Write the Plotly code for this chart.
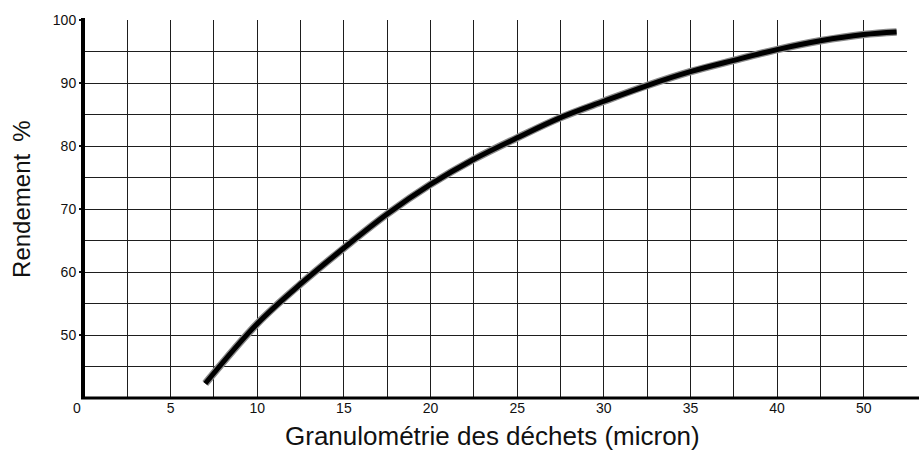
import plotly.graph_objects as go

# Data
granulometrie = [7.0, 10, 12.5, 15, 17.5, 20, 22.5, 25, 27.5, 30, 32.5, 35, 37.5, 40, 42.5, 45, 46.9]
rendement = [42.3, 51.8, 58.1, 63.8, 69.2, 73.9, 77.9, 81.3, 84.5, 87.1, 89.6, 91.8, 93.6, 95.3, 96.7, 97.7, 98.1]

x_tick_pos = [5, 10, 15, 20, 25, 30, 35, 40, 45]
x_tick_text = ["5", "10", "15", "20", "25", "30", "35", "40", "50"]
origin_label = "0"
y_tick_pos = [50, 60, 70, 80, 90, 100]
y_tick_text = ["50", "60", "70", "80", "90", "100"]

W, H = 919, 454
L, R, T, B = 84, 12, 16, 56
pw, ph = W - L - R, H - T - B

def px_x(px):
    return (px - L) / pw

def px_y(py):
    return (H - B - py) / ph

fig = go.Figure()
fig.add_trace(go.Scatter(x=granulometrie, y=rendement, mode="lines",
                         line=dict(color="#8a8a8a", width=7.5, shape="spline"),
                         hoverinfo="skip", showlegend=False))
fig.add_trace(go.Scatter(x=granulometrie, y=rendement, mode="lines",
                         line=dict(color="#000000", width=5, shape="spline"),
                         showlegend=False))

grid_col = "#1e1e1e"
tick_font = dict(family="Liberation Sans, Arial, sans-serif", size=14, color="#111")
title_font = dict(family="Liberation Sans, Arial, sans-serif", size=24, color="#111")

fig.update_layout(
    width=W, height=H,
    margin=dict(l=L, r=R, t=T, b=B),
    paper_bgcolor="white", plot_bgcolor="white",
    xaxis=dict(range=[0, 47.5], tickvals=x_tick_pos, ticktext=x_tick_text,
               showgrid=True, gridcolor=grid_col, gridwidth=1.3,
               minor=dict(tick0=0, dtick=2.5, showgrid=True, gridcolor=grid_col, gridwidth=1.3),
               zeroline=False, showline=False, ticks="", tickfont=tick_font,
               fixedrange=True),
    yaxis=dict(range=[40, 100], tickvals=y_tick_pos, ticktext=y_tick_text,
               showgrid=True, gridcolor=grid_col, gridwidth=1.3,
               minor=dict(tick0=0, dtick=5, showgrid=True, gridcolor=grid_col, gridwidth=1.3),
               zeroline=False, showline=False, ticks="outside", ticklen=4,
               tickwidth=1.5, tickcolor="#111", tickfont=tick_font, fixedrange=True),
    shapes=[
        dict(type="line", xref="paper", yref="paper", x0=px_x(83), x1=px_x(83),
             y0=0, y1=px_y(14), line=dict(color="black", width=4)),
        dict(type="line", xref="paper", yref="paper", x0=px_x(81), x1=px_x(919),
             y0=0, y1=0, line=dict(color="black", width=3)),
    ],
    annotations=[
        dict(text=origin_label, xref="paper", yref="paper", x=px_x(77), y=px_y(408),
             showarrow=False, font=tick_font, xanchor="center", yanchor="middle"),
        dict(text="Granulométrie des déchets (micron)", xref="paper", yref="paper",
             x=px_x(492), y=px_y(436), showarrow=False, xanchor="center", yanchor="middle",
             font=dict(family="Liberation Sans, Arial, sans-serif", size=26, color="#111")),
        dict(text="Rendement", xref="paper", yref="paper", x=px_x(22), y=px_y(214),
             showarrow=False, textangle=-90, xanchor="center", yanchor="middle",
             font=title_font),
        dict(text="%", xref="paper", yref="paper", x=px_x(22), y=px_y(129),
             showarrow=False, textangle=-90, xanchor="center", yanchor="middle",
             font=title_font),
    ],
)

fig.write_html("out.html", config={"displayModeBar": False})

# remove the default page margin so the figure sits at the window's corner
with open("out.html", "r", encoding="utf-8") as f:
    html = f.read()
html = html.replace("<head>", "<head><style>html,body{margin:0;padding:0;overflow:hidden}</style>", 1)
with open("out.html", "w", encoding="utf-8") as f:
    f.write(html)
